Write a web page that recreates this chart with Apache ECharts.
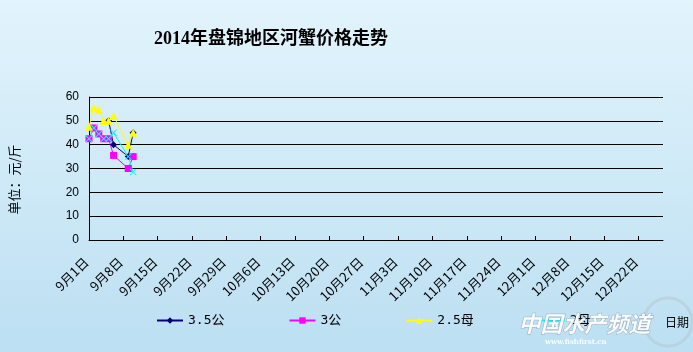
<!DOCTYPE html>
<html lang="zh">
  <head>
    <meta charset="UTF-8" />
    <title>2014年盘锦地区河蟹价格走势</title>
    <script src="https://cdn.jsdelivr.net/npm/echarts@6/dist/echarts.min.js"></script>
    <style>
      html, body { margin: 0; padding: 0; }
    </style>
  </head>
  <body>
    <div id="main" style="width: 693px; height: 352px"></div>
    <script type="text/javascript">
      // days counted from 9月1日 (x axis is a day axis)
      const dayOffsets = [0, 1, 2, 3, 4, 5, 8, 9];
      const seriesNames = ["3.5公", "3公", "2.5母", "2母"];
      const male35 = [null, null, null, null, 50, 40, 35, 45];
      const male3 = [42.5, 47, 44.5, 42.5, 42.5, 35.5, 30, 35];
      const female25 = [47.5, 55.5, 54.5, 50, 50, 52, 40, 45];
      const female2 = [42.5, 47, 44.5, 42.5, 42.5, 45, 35, 28.5];
      const tickLabels = [
        "9月1日", "9月8日", "9月15日", "9月22日", "9月29日", "10月6日",
        "10月13日", "10月20日", "10月27日", "11月3日", "11月10日", "11月17日",
        "11月24日", "12月1日", "12月8日", "12月15日", "12月22日",
      ];
      const xMax = 117; // axis runs to about 12月27日

      const pair = (vals) => vals.map((v, i) => [dayOffsets[i], v]);
      const tickValues = tickLabels.map((_, i) => i * 7);

      const crossPath =
        "path://M0,1L1,0L5,4L9,0L10,1L6,5L10,9L9,10L5,6L1,10L0,9L4,5Z";

      const lineSeries = (name, vals, color, symbol, size) => ({
        name: name,
        type: "line",
        data: pair(vals),
        connectNulls: true,
        symbol: symbol,
        symbolSize: size,
        showSymbol: true,
        lineStyle: { color: color, width: 1 },
        itemStyle: { color: color },
        emphasis: { disabled: true },
        animation: false,
      });

      let myChart = echarts.init(document.getElementById("main"));
      let options = {
        backgroundColor: {
          type: "linear", x: 0, y: 0, x2: 0, y2: 1,
          colorStops: [
            { offset: 0, color: "#e2f4fc" },
            { offset: 1, color: "#bcdff2" },
          ],
        },
        title: {
          text: "2014年盘锦地区河蟹价格走势",
          left: 149,
          top: 25,
          textStyle: {
            fontFamily: "'Liberation Serif', 'Noto Sans CJK SC'",
            fontSize: 18,
            fontWeight: "bold",
            color: "#000",
          },
        },
        legend: {
          left: 151,
          top: 309,
          itemWidth: 26,
          itemHeight: 8,
          itemGap: 64,
          textStyle: {
            fontFamily: "'DejaVu Sans Mono', 'Noto Sans CJK SC'",
            fontSize: 13,
            color: "#000",
          },
          data: seriesNames,
        },
        grid: {
          left: 89, right: 30, top: 97, bottom: 112,
          containLabel: false,
          outerBoundsMode: "none",
        },
        xAxis: {
          type: "value",
          min: 0,
          max: xMax,
          interval: 7,
          name: "日期",
          nameLocation: "end",
          nameGap: 2,
          nameTextStyle: {
            fontFamily: "'Noto Sans CJK SC'",
            fontSize: 12,
            color: "#000",
            verticalAlign: "top",
            padding: [76, 0, 0, 0],
          },
          axisLine: { lineStyle: { color: "#000", width: 1 } },
          axisTick: {
            inside: true,
            length: 4,
            lineStyle: { color: "#000" },
            customValues: tickValues,
          },
          splitLine: { show: false },
          axisLabel: {
            rotate: 45,
            margin: 17,
            padding: [0, 4, 0, 0],
            fontFamily: "'Noto Sans CJK SC'",
            fontSize: 13,
            color: "#000",
            customValues: tickValues,
            formatter: (v) => tickLabels[Math.round(v / 7)] || "",
          },
        },
        yAxis: {
          type: "value",
          min: 0,
          max: 60,
          interval: 10,
          name: "单位：元/斤",
          nameLocation: "middle",
          nameGap: 68,
          nameTextStyle: {
            fontFamily: "'Noto Sans CJK SC'",
            fontSize: 13,
            color: "#000",
            padding: [0, 22, 0, 0],
          },
          axisLine: { show: true, lineStyle: { color: "#000", width: 1 } },
          axisTick: { show: false },
          splitLine: { lineStyle: { color: "#000", width: 1 } },
          axisLabel: {
            margin: 10,
            fontFamily: "Arial, 'Liberation Sans'",
            fontSize: 12,
            color: "#000",
          },
        },
        series: [
          lineSeries(seriesNames[0], male35, "#000080", "diamond", 7),
          lineSeries(seriesNames[1], male3, "#ff00ff", "rect", 7),
          lineSeries(seriesNames[2], female25, "#ffff00", "triangle", 8),
          lineSeries(seriesNames[3], female2, "#00ffff", crossPath, 7),
        ],
        graphic: [
          {
            type: "circle",
            shape: { cx: 668, cy: 322, r: 24 },
            style: { fill: "none", stroke: "rgba(170,170,170,0.25)", lineWidth: 3 },
            z: 100,
          },
          {
            type: "text",
            left: 518,
            top: 312,
            z: 101,
            style: {
              text: "中国水产频道",
              font: "italic bold 22px 'Noto Sans CJK SC'",
              fill: "rgba(255,255,255,0.92)",
              stroke: "rgba(120,140,160,0.6)",
              lineWidth: 1,
            },
          },
          {
            type: "text",
            left: 545,
            top: 339,
            z: 101,
            style: {
              text: "www.fishfirst.cn",
              font: "bold 7px 'DejaVu Serif'",
              fill: "rgba(255,255,255,0.9)",
            },
          },
        ],
      };
      myChart.setOption(options);
    </script>
  </body>
</html>
